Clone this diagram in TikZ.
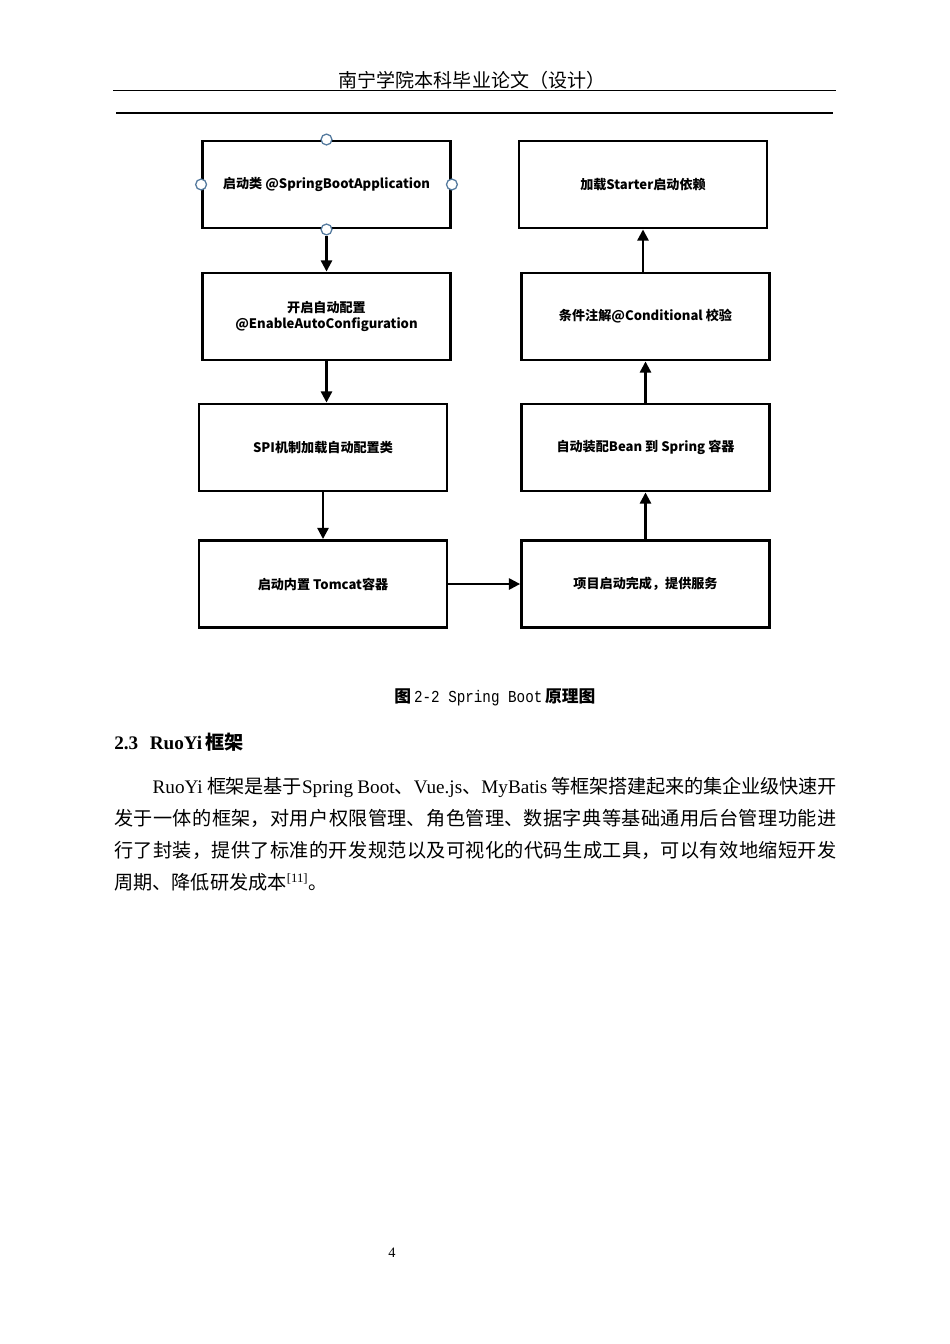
\documentclass[tikz,border=0pt]{standalone}
\usepackage{fontspec}
\setmainfont{Liberation Serif}
\newfontfamily\cjk{Noto Sans CJK SC}
\newfontfamily\capmono[FakeStretch=0.85]{Liberation Mono}
\usetikzlibrary{arrows.meta}
\definecolor{handleblue}{RGB}{84,122,158}
\XeTeXlinebreaklocale "zh"
\XeTeXlinebreakskip = 0pt plus 1pt minus 0.4pt

\begin{document}
\begin{tikzpicture}[x = 0.626pt, y = -0.626pt,
    box/.style = {shape = rectangle, draw, line width = 1.8pt, minimum width = 155.2pt, minimum height = 54.5pt,
        inner sep = 1pt, align = center, font = {\cjk\bfseries\fontsize{8.2pt}{10.2pt}\selectfont}},
    handle/.style = {shape = circle, draw = handleblue, fill = white, line width = 0.8pt, inner sep = 0pt, minimum size = 6.8pt},
    flow/.style = {line width = 1.4pt, -{Triangle[length = 7pt, width = 7pt]}}]
    \useasboundingbox (0,0) rectangle (950,1344);
    % page head
    \node (head) at (472,80) {\cjk\fontsize{11.9pt}{12pt}\selectfont 南宁学院本科毕业论文（设计）};
    \draw[line width = 0.6pt] (113,90) -- (836,90);
    \draw[line width = 0.9pt] (116,113) -- (833,113);
    % left column
    \node[box] (start) at (326.5,184.5) {启动类 @SpringBootApplication};
    \node[box] (enable) at (326.5,316.5) {开启自动配置\\@EnableAutoConfiguration};
    \node[box] (spi) at (323,447.5) {SPI机制加载自动配置类};
    \node[box] (tomcat) at (323,584) {启动内置 Tomcat容器};
    % right column
    \node[box] (starter) at (643,184.5) {加载Starter启动依赖};
    \node[box] (cond) at (645.5,316.5) {条件注解@Conditional 校验};
    \node[box] (bean) at (645.5,447.5) {自动装配Bean 到 Spring 容器};
    \node[box] (done) at (645.5,584) {项目启动完成，提供服务};
    \foreach \side in {north, south, east, west}
        \node[handle] (start-\side) at (start.\side) {};
    \draw[flow] (start-south) -- (enable);
    \draw[flow] (enable.south) -- (enable.south |- spi.north);
    \draw[flow] (spi) -- (tomcat);
    \draw[flow] (tomcat) -- (done);
    \draw[flow] (done) -- (bean);
    \draw[flow] (bean) -- (cond);
    \draw[flow] (starter.south |- cond.north) -- (starter.south);
    % caption and text
    \node (caption) at (495,697) {\fontsize{10.5pt}{12pt}\selectfont{\cjk\bfseries 图}\,{\capmono 2-2 Spring Boot}\,{\cjk\bfseries 原理图}};
    \node[anchor = west, inner sep = 0pt] (sec) at (114,742) {\fontsize{12pt}{14pt}\selectfont\bfseries 2.3\hspace{0.6em}RuoYi\,{\cjk 框架}};
    \node[anchor = north west, inner sep = 0pt, text width = 452pt, align = justify,
        font = \fontsize{12pt}{20pt}\selectfont] (para) at (114,777) {%
        \hspace*{2em}RuoYi {\cjk 框架是基于}Spring Boot{\cjk 、}Vue.js{\cjk 、}MyBatis {\cjk 等框架搭建起来的集企业级快速开\linebreak
        发于一体的框架，对用户权限管理、角色管理、数据字典等基础通用后台管理功能进\linebreak
        行了封装，提供了标准的开发规范以及可视化的代码生成工具，可以有效地缩短开发\linebreak
        周期、降低研发成本}\textsuperscript{[11]}{\cjk 。}};
    \node (pagenum) at (392,1253) {\fontsize{9pt}{10pt}\selectfont 4};
\end{tikzpicture}
\end{document}
